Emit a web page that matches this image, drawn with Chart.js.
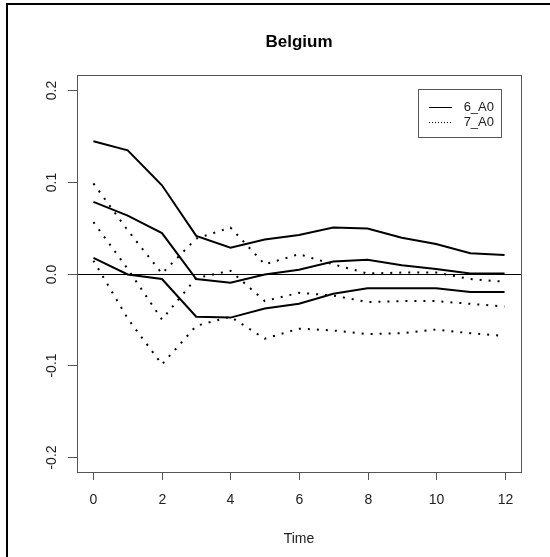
<!DOCTYPE html>
<html>
<head>
<meta charset="utf-8">
<title>Belgium</title>
<script src="https://cdn.jsdelivr.net/npm/chart.js@4/dist/chart.umd.min.js"></script>
<style>
  html, body { margin: 0; padding: 0; background: #fff; }
  #wrap { position: relative; width: 550px; height: 557px; }
</style>
</head>
<body>
<div id="wrap"><canvas id="irf"></canvas></div>
<script>
// impulse responses over 13 periods, with upper / lower bands
const timeSteps = [0, 1, 2, 3, 4, 5, 6, 7, 8, 9, 10, 11, 12];

// model 6_A0 (solid)
const upper6 = [0.144, 0.134, 0.096, 0.041, 0.028, 0.037, 0.042, 0.050, 0.049, 0.039, 0.032, 0.022, 0.020];
const mid6   = [0.078, 0.063, 0.044, -0.006, -0.010, -0.001, 0.004, 0.013, 0.015, 0.009, 0.005, 0.000, 0.000];
const lower6 = [0.017, -0.001, -0.006, -0.047, -0.048, -0.038, -0.033, -0.022, -0.016, -0.016, -0.016, -0.020, -0.020];

// model 7_A0 (dotted)
const upper7 = [0.098, 0.047, 0.000, 0.038, 0.050, 0.010, 0.021, 0.010, 0.000, 0.001, 0.001, -0.006, -0.009];
const mid7   = [0.056, 0.005, -0.050, -0.005, 0.003, -0.030, -0.021, -0.024, -0.031, -0.030, -0.030, -0.033, -0.036];
const lower7 = [0.014, -0.049, -0.099, -0.057, -0.047, -0.071, -0.060, -0.062, -0.066, -0.065, -0.061, -0.065, -0.068];

const xTicks = [0, 2, 4, 6, 8, 10, 12];
const yTicks = [-0.2, -0.1, 0.0, 0.1, 0.2];
const yTickLabels = ["-0.2", "-0.1", "0.0", "0.1", "0.2"];
const seriesNames = ["6_A0", "7_A0"];

const FONT = "'Liberation Sans', Arial, sans-serif";
const SOLID = [];
const DOTTED = [2, 7];

function pts(values) {
    return timeSteps.map((t, i) => ({ x: t, y: values[i] }));
}

function line(label, values, dash) {
    return {
        label: label,
        data: pts(values),
        borderColor: "#000",
        borderWidth: 2,
        borderDash: dash,
        pointRadius: 0,
        tension: 0,
        fill: false
    };
}

// base-graphics style frame: box, outside ticks, rotated y labels, legend
const rAxes = {
    id: "rAxes",
    beforeDraw(chart) {
        const ctx = chart.ctx;
        ctx.save();
        ctx.fillStyle = "#fff";
        ctx.fillRect(0, 0, chart.width, chart.height);
        ctx.restore();
    },
    beforeDatasetsDraw(chart) {
        const ctx = chart.ctx;
        const a = chart.chartArea;
        const y0 = Math.round(chart.scales.y.getPixelForValue(0)) + 0.5;
        ctx.save();
        ctx.strokeStyle = "#000";
        ctx.lineWidth = 1;
        ctx.beginPath();
        ctx.moveTo(a.left, y0);
        ctx.lineTo(a.right, y0);
        ctx.stroke();
        ctx.restore();
    },
    afterDraw(chart) {
        const ctx = chart.ctx;
        const a = chart.chartArea;
        const xs = chart.scales.x, ys = chart.scales.y;
        ctx.save();

        // plot box
        ctx.strokeStyle = "#555";
        ctx.lineWidth = 1;
        ctx.strokeRect(Math.round(a.left) + 0.5, Math.round(a.top) + 0.5,
                       Math.round(a.right - a.left), Math.round(a.bottom - a.top));

        // x axis ticks and labels
        ctx.fillStyle = "#222";
        ctx.font = "14px " + FONT;
        ctx.textAlign = "center";
        ctx.textBaseline = "middle";
        xTicks.forEach(v => {
            const px = Math.round(xs.getPixelForValue(v)) + 0.5;
            ctx.beginPath();
            ctx.moveTo(px, a.bottom);
            ctx.lineTo(px, a.bottom + 8);
            ctx.stroke();
            ctx.fillText(String(v), px, a.bottom + 28);
        });

        // y axis ticks and rotated labels
        yTicks.forEach((v, i) => {
            const py = Math.round(ys.getPixelForValue(v)) + 0.5;
            ctx.beginPath();
            ctx.moveTo(a.left, py);
            ctx.lineTo(a.left - 9, py);
            ctx.stroke();
            ctx.save();
            ctx.translate(a.left - 25, py);
            ctx.rotate(-Math.PI / 2);
            ctx.fillText(yTickLabels[i], 0, 0);
            ctx.restore();
        });

        // title and axis label
        ctx.fillStyle = "#000";
        ctx.font = "bold 17px " + FONT;
        ctx.fillText("Belgium", (a.left + a.right) / 2, 42);
        ctx.fillStyle = "#222";
        ctx.font = "14px " + FONT;
        ctx.fillText("Time", (a.left + a.right) / 2, 539);

        // legend
        const lx = 418.5, ly = 89.5, lw = 83, lh = 48;
        ctx.strokeStyle = "#555";
        ctx.strokeRect(lx, ly, lw, lh);
        ctx.font = "13px " + FONT;
        ctx.textAlign = "right";
        [SOLID, [1, 2]].forEach((dash, i) => {
            const yy = 107.5 + i * 15;
            ctx.strokeStyle = "#000";
            ctx.setLineDash(dash);
            ctx.beginPath();
            ctx.moveTo(429, yy);
            ctx.lineTo(452, yy);
            ctx.stroke();
            ctx.setLineDash([]);
            ctx.fillStyle = "#222";
            ctx.fillText(seriesNames[i], 494, yy);
        });

        // outer frame (top and left edges)
        ctx.fillStyle = "#000";
        ctx.fillRect(6, 3, chart.width - 6, 2);
        ctx.fillRect(6, 3, 2, chart.height - 3);
        ctx.restore();
    }
};

function CreateChart() {
    const ctx = document.getElementById("irf");
    new Chart(ctx, {
        type: "line",
        data: {
            datasets: [
                line(seriesNames[0], upper6, SOLID),
                line(seriesNames[0], mid6, SOLID),
                line(seriesNames[0], lower6, SOLID),
                line(seriesNames[1], upper7, DOTTED),
                line(seriesNames[1], mid7, DOTTED),
                line(seriesNames[1], lower7, DOTTED)
            ]
        },
        options: {
            responsive: true,
            maintainAspectRatio: false,
            animation: false,
            events: [],
            layout: { padding: { left: 77, top: 75, right: 29, bottom: 85 } },
            plugins: {
                legend: { display: false },
                title: { display: false },
                tooltip: { enabled: false }
            },
            scales: {
                x: { type: "linear", min: -0.48, max: 12.48, display: false },
                y: { type: "linear", min: -0.216, max: 0.216, display: false }
            }
        },
        plugins: [rAxes]
    });
}

CreateChart();
</script>
</body>
</html>
